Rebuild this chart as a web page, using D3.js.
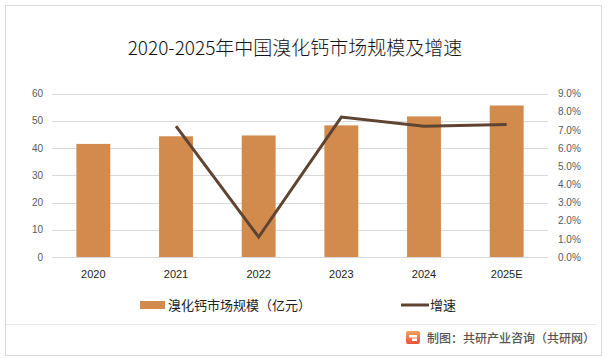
<!DOCTYPE html>
<html><head><meta charset="utf-8">
<script src="https://cdn.jsdelivr.net/npm/d3@7"></script>
<style>
body{margin:0;background:#fff;}
svg{display:block;font-family:"Noto Sans CJK SC","Noto Sans",sans-serif;}
</style></head>
<body>
<script>
const categories = ["2020","2021","2022","2023","2024","2025E"];
const marketSize = [41.5, 44.3, 44.6, 48.3, 51.6, 55.6];
const growth = [null, 7.2, 1.1, 7.7, 7.2, 7.3];
const leftTicks = [0,10,20,30,40,50,60];
const rightTicks = [0,1,2,3,4,5,6,7,8,9];

const W = 609, H = 358;
const svg = d3.select("body").append("svg").attr("width", W).attr("height", H);

// border
svg.append("rect").attr("x",5.5).attr("y",5.5).attr("width",596).attr("height",350)
  .attr("fill","#fff").attr("stroke","#d9d9d9").attr("stroke-width",1);

// title
svg.append("text").attr("x",295).attr("y",55).attr("text-anchor","middle")
  .attr("font-size",19).attr("font-weight",300).attr("fill","#111").text("2020-2025年中国溴化钙市场规模及增速");

const x0 = 52, x1 = 548, yTop = 93.5, yBot = 257;
const x = d3.scaleBand().domain(categories).range([x0, x1]).paddingInner(0.59).paddingOuter(0.295);
const yL = d3.scaleLinear().domain([0,60]).range([yBot, yTop]);
const yR = d3.scaleLinear().domain([0,9]).range([yBot, yTop]);

// gridlines
svg.append("g").selectAll("line").data(leftTicks).join("line")
  .attr("x1",x0).attr("x2",x1).attr("y1",d=>Math.round(yL(d))+0.5).attr("y2",d=>Math.round(yL(d))+0.5)
  .attr("stroke","#d9d9d9").attr("stroke-width",1);

// left axis
const gL = svg.append("g").attr("transform",`translate(${x0},0)`)
  .call(d3.axisLeft(yL).tickValues(leftTicks).tickSize(0).tickPadding(9));
gL.select(".domain").remove();
gL.selectAll("text").attr("font-size",10).attr("fill","#595959").attr("font-family","Liberation Sans, Arial, sans-serif");

// right axis
const gR = svg.append("g").attr("transform",`translate(${x1},0)`)
  .call(d3.axisRight(yR).tickValues(rightTicks).tickSize(0).tickPadding(10).tickFormat(d=>d.toFixed(1)+"%"));
gR.select(".domain").remove();
gR.selectAll("text").attr("font-size",10).attr("fill","#595959").attr("font-family","Liberation Sans, Arial, sans-serif");

// bars
svg.append("g").selectAll("rect").data(marketSize).join("rect")
  .attr("x",(d,i)=>x(categories[i])).attr("width",x.bandwidth())
  .attr("y",d=>yL(d)).attr("height",d=>yBot-yL(d)).attr("fill","#d28b4d");

// x axis labels
const gX = svg.append("g").attr("transform",`translate(0,${yBot})`)
  .call(d3.axisBottom(x).tickSize(0).tickPadding(13));
gX.select(".domain").remove();
gX.selectAll("text").attr("font-size",11).attr("fill","#222").attr("font-family","Liberation Sans, Arial, sans-serif");

// line
const lineData = categories.map((c,i)=>({c, v:growth[i]})).filter(d=>d.v!==null);
svg.append("path").datum(lineData)
  .attr("d", d3.line().x(d=>x(d.c)+x.bandwidth()/2).y(d=>yR(d.v)))
  .attr("fill","none").attr("stroke","#5e4431").attr("stroke-width",3).attr("stroke-linejoin","miter");

// legend
svg.append("rect").attr("x",140).attr("y",301).attr("width",25).attr("height",8).attr("fill","#d28b4d");
svg.append("text").attr("x",168).attr("y",310).attr("font-size",13).attr("fill","#222").text("溴化钙市场规模（亿元）");
svg.append("line").attr("x1",401).attr("x2",429).attr("y1",305).attr("y2",305).attr("stroke","#5e4431").attr("stroke-width",3);
svg.append("text").attr("x",430).attr("y",310).attr("font-size",13).attr("fill","#222").text("增速");

// separator
svg.append("line").attr("x1",6).attr("x2",596).attr("y1",324.5).attr("y2",324.5).attr("stroke","#e6e6e6").attr("stroke-width",1);

// footer logo
const logo = svg.append("g").attr("transform","translate(406,331)");
const grad = svg.append("defs").append("linearGradient").attr("id","lg").attr("x1","0").attr("y1","0").attr("x2","0").attr("y2","1");
grad.append("stop").attr("offset","0").attr("stop-color","#f4a25a");
grad.append("stop").attr("offset","1").attr("stop-color","#e8553a");
logo.append("rect").attr("x",0).attr("y",0).attr("width",14).attr("height",13).attr("rx",2).attr("fill","url(#lg)");
logo.append("rect").attr("x",3).attr("y",4).attr("width",8).attr("height",2.5).attr("fill","#fff");
logo.append("rect").attr("x",6).attr("y",7.5).attr("width",5).attr("height",2.5).attr("fill","#fff");
svg.append("text").attr("x",427).attr("y",343).attr("font-size",12).attr("fill","#555").attr("font-weight",500)
  .text("制图：共研产业咨询（共研网）");
</script>
</body></html>
